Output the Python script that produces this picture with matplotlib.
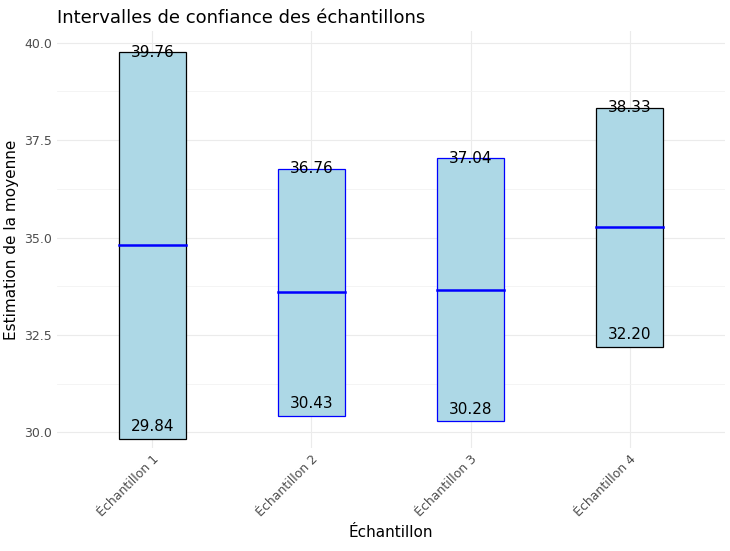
import matplotlib.pyplot as plt

cats = ["Échantillon 1", "Échantillon 2", "Échantillon 3", "Échantillon 4"]
lower = [29.84, 30.43, 30.28, 32.20]
upper = [39.76, 36.76, 37.04, 38.33]
means = [34.81, 33.61, 33.66, 35.27]
edges = ["black", "blue", "blue", "black"]

fig = plt.figure(figsize=(7.3, 5.51), dpi=100)
ax = fig.add_axes([57/730, 1-448/551, 668/730, 417/551])
x = list(range(len(cats)))
w = 0.42
for i in x:
    ax.bar(i, upper[i]-lower[i], bottom=lower[i], width=w, color="lightblue",
           edgecolor=edges[i], linewidth=0.9, zorder=2)
    ax.plot([i-w/2, i+w/2], [means[i]]*2, color="blue", lw=1.8, zorder=3)
    ax.text(i, upper[i], f"{upper[i]:.2f}", ha="center", va="center", fontsize=11, zorder=4)
    ax.text(i, lower[i]+0.32, f"{lower[i]:.2f}", ha="center", va="center", fontsize=11, zorder=4)
ax.set_xlim(-0.6, 3.6)
ax.set_ylim(29.6, 40.3)
ax.set_yticks([30, 32.5, 35, 37.5, 40])
ax.set_yticklabels(["30.0", "32.5", "35.0", "37.5", "40.0"])
ax.set_xticks(x)
ax.set_xticklabels(cats, rotation=45, ha="right", rotation_mode="anchor")
ax.set_yticks([31.25, 33.75, 36.25, 38.75], minor=True)
ax.tick_params(which="both", colors="#4d4d4d", length=0, labelsize=9)
ax.tick_params(which="minor", labelleft=False)
ax.grid(True, which="major", color="#ebebeb", lw=0.8, zorder=0)
ax.grid(True, which="minor", axis="y", color="#f3f3f3", lw=0.6, zorder=0)
for s in ax.spines.values():
    s.set_visible(False)
ax.set_xlabel("Échantillon", fontsize=11)
ax.set_ylabel("Estimation de la moyenne", fontsize=11)
ax.set_title("Intervalles de confiance des échantillons", loc="left", fontsize=13, x=0.0)
fig.savefig("out.png", dpi=100)
